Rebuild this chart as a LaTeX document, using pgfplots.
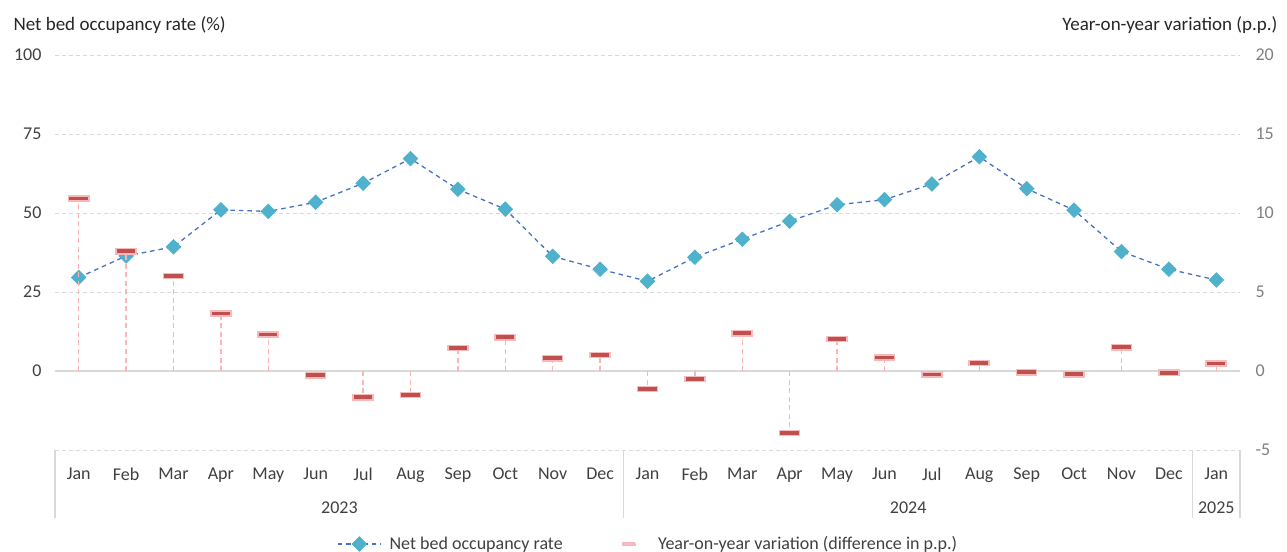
\documentclass[border=0pt]{standalone}
\usepackage{fontspec}
\setmainfont{Carlito}
\usepackage{pgfplots}
\usepackage{pgfplotstable}
\pgfplotsset{compat=1.18}
\definecolor{lineblue}{HTML}{4472C4}
\definecolor{mkblue}{HTML}{4FB1CC}
\definecolor{barred}{HTML}{C0504D}
\definecolor{barpink}{HTML}{F7B9B9}
\definecolor{droppink}{HTML}{FFB3B3}
\definecolor{gridgray}{HTML}{D9D9D9}
\definecolor{txtdark}{HTML}{404040}
\definecolor{txtgray}{HTML}{7F7F7F}
\definecolor{titletxt}{HTML}{262626}

\pgfdeclareplotmark{hbar}{\pgfpathrectangle{\pgfqpoint{-10bp}{-2.6bp}}{\pgfqpoint{20bp}{5.2bp}}\pgfusepathqfillstroke}
\pgfdeclareplotmark{rdiam}{%
  \pgfsetcornersarced{\pgfqpoint{3.4bp}{3.4bp}}%
  \pgfpathmoveto{\pgfqpoint{3.6bp}{3.6bp}}%
  \pgfpathlineto{\pgfqpoint{7.2bp}{0bp}}%
  \pgfpathlineto{\pgfqpoint{0bp}{-7.2bp}}%
  \pgfpathlineto{\pgfqpoint{-7.2bp}{0bp}}%
  \pgfpathlineto{\pgfqpoint{0bp}{7.2bp}}%
  \pgfpathlineto{\pgfqpoint{3.6bp}{3.6bp}}%
  \pgfpathclose
  \pgfusepathqfillstroke}

\pgfplotsset{
  occstyle/.style={lineblue, line width=1.3bp, dash pattern=on 4.5bp off 4bp,
    mark=rdiam,
    mark options={solid, fill=mkblue, draw=mkblue, line width=0.8bp}},
  occlegend/.style={legend image code/.code={\draw[mark repeat=2,mark phase=2,##1] plot coordinates {(0bp,0bp) (21.5bp,0bp) (43bp,0bp)};}},
}

\pgfplotstableread{
x occ var
0 29.6 10.93
1 36.4 7.58
2 39.3 6.01
3 51.0 3.64
4 50.5 2.31
5 53.4 -0.26
6 59.4 -1.66
7 67.2 -1.52
8 57.5 1.46
9 51.2 2.14
10 36.3 0.81
11 32.2 1.01
12 28.4 -1.14
13 36.0 -0.51
14 41.7 2.39
15 47.4 -3.92
16 52.6 2.03
17 54.2 0.86
18 59.2 -0.21
19 67.8 0.51
20 57.7 -0.07
21 50.9 -0.20
22 37.8 1.50
23 32.2 -0.12
24 28.8 0.48
}\datatable

\newcommand{\fs}{\fontsize{18bp}{21bp}\selectfont}
\newcommand{\ft}{\fontsize{19bp}{22bp}\selectfont}

\begin{document}
\begin{tikzpicture}
\begin{axis}[
  at={(0,0)}, anchor=south west, scale only axis,
  width=1185bp, height=395bp,
  xmin=-0.5, xmax=24.5, ymin=-25, ymax=100,
  xtick={0,...,24},
  xticklabels={Jan,Feb,Mar,Apr,May,Jun,Jul,Aug,Sep,Oct,Nov,Dec,Jan,Feb,Mar,Apr,May,Jun,Jul,Aug,Sep,Oct,Nov,Dec,Jan},
  ytick={-25,25,50,75,100}, yticklabels={,25,50,75,100},
  extra y ticks={0}, extra y tick labels={0},
  extra y tick style={grid=major, major grid style={solid, draw=gridgray, line width=1.3bp}},
  ymajorgrids,
  major grid style={dash pattern=on 4bp off 3bp, draw=gridgray, line width=0.9bp},
  axis line style={draw=none}, major tick length=0pt,
  tick label style={font=\fs, text=txtdark},
  yticklabel style={xshift=-10bp},
  xticklabel style={yshift=-14bp},
  /pgf/number format/assume math mode=true,
  clip=false,
]
\addplot[occstyle] table[x=x, y=occ] {\datatable};
\draw[gridgray, line width=1.3bp] (axis cs:-0.5,-25) -- ([yshift=-68bp]axis cs:-0.5,-25);
\draw[gridgray, line width=1.3bp] (axis cs:11.5,-25) -- ([yshift=-68bp]axis cs:11.5,-25);
\draw[gridgray, line width=1.3bp] (axis cs:23.5,-25) -- ([yshift=-68bp]axis cs:23.5,-25);
\draw[gridgray, line width=1.3bp] (axis cs:24.5,-25) -- ([yshift=-68bp]axis cs:24.5,-25);
\node[font=\fs, text=txtdark] at (axis cs:5.5,-25) [yshift=-58bp] {2023};
\node[font=\fs, text=txtdark] at (axis cs:17.5,-25) [yshift=-58bp] {2024};
\node[font=\fs, text=txtdark] at (axis cs:24,-25) [yshift=-58bp] {2025};
\end{axis}
\begin{axis}[
  at={(0,0)}, anchor=south west, scale only axis,
  width=1185bp, height=395bp,
  xmin=-0.5, xmax=24.5, ymin=-5, ymax=20,
  axis y line*=right, axis x line=none,
  ytick={-5,0,5,10,15,20},
  axis line style={draw=none}, major tick length=0pt,
  tick label style={font=\fs, text=txtgray},
  yticklabel style={xshift=12bp},
  /pgf/number format/assume math mode=true,
  clip=false,
  legend columns=2,
  legend style={at={(0.238,-0.238)}, anchor=west, draw=none, fill=none,
    font=\fs, text=txtdark, inner sep=0pt,
    /tikz/every odd column/.append style={column sep=6bp},
    /tikz/every even column/.append style={column sep=50bp}},
  legend cell align=left,
]
\addlegendimage{occstyle, occlegend}
\addlegendentry{Net bed occupancy rate}
\addplot[ycomb, droppink, line width=1.3bp, dash pattern=on 5bp off 3.5bp,
  mark=hbar, mark options={solid, fill=barred, draw=barpink, line width=1.6bp},
  legend image code/.code={\fill[barpink] (7bp,-1.8bp) rectangle (20bp,1.8bp); \path (0bp,0bp) (34bp,0bp);}]
  table[x=x, y=var] {\datatable};
\addlegendentry{Year-on-year variation (difference in p.p.)}
\end{axis}
\node[anchor=base west, font=\ft, text=titletxt] at (-45bp,419bp) {Net bed occupancy rate (\%)};
\node[anchor=base east, font=\ft, text=titletxt] at (1226bp,419bp) {Year-on-year variation (p.p.)};
\pgfresetboundingbox
\path[use as bounding box] (-55bp,-102bp) rectangle (1232bp,450bp);
\end{tikzpicture}
\end{document}
